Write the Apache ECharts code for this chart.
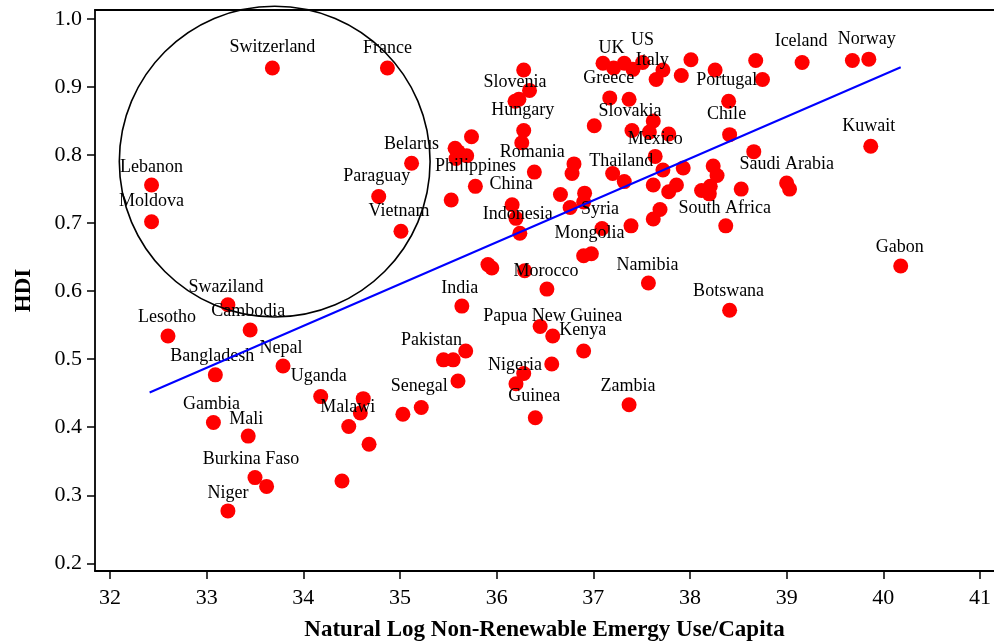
<!DOCTYPE html>
<html><head><meta charset="utf-8">
<script src="https://cdn.jsdelivr.net/npm/echarts@6/dist/echarts.min.js"></script>
<style>html,body{margin:0;padding:0;background:#fff}#c{width:994px;height:644px}</style>
</head><body><div id="c"></div>
<script>
// ---- data ----
const countries = [
 'Switzerland','France','Lebanon','Moldova','Belarus','Paraguay','Vietnam',
 'Swaziland','Cambodia','Lesotho','Bangladesh','Nepal','Uganda','Gambia','Mali','Burkina Faso','','Niger',
 '','','Malawi','','','','Senegal','Pakistan','','','','India','','Nigeria','','Guinea','','Papua New Guinea',
 'Kenya','Zambia','Morocco','','','','','Mongolia','Namibia','Botswana','Gabon',
 'Indonesia','China','','','Philippines','Romania','','','','','',
 '','','','Slovenia','Hungary','','','','','','','','','Syria','','Greece','',
 '','UK','','','US','','Italy','','','','','','Portugal','Chile',
 '','Slovakia','','','Mexico','','Thailand','','','','','','','',
 '','','','','','','','South Africa','Saudi Arabia','','Iceland','','Norway','Kuwait'
];
const energyUse = [
 33.68,34.87,32.43,32.43,35.12,34.78,35.01,
 33.22,33.45,32.60,33.09,33.79,34.18,33.07,33.43,33.50,33.62,33.22,
 34.62,34.59,34.47,34.68,34.40,35.03,35.22,35.45,35.55,35.68,35.60,35.64,36.28,36.20,36.57,36.40,36.45,36.58,
 36.90,37.37,36.52,36.29,35.91,35.95,36.90,36.98,37.57,38.41,40.18,
 36.24,36.16,36.20,35.53,35.78,36.39,35.74,35.57,35.60,35.69,35.58,
 36.28,36.34,36.23,36.19,36.28,36.26,36.80,36.78,36.66,36.91,36.90,36.76,37.39,37.09,37.01,37.17,37.37,
 37.10,37.21,37.32,37.41,37.51,37.72,37.65,38.01,37.91,38.26,38.68,38.75,38.40,38.41,
 37.62,37.40,37.58,37.78,37.64,37.20,37.32,37.62,37.72,37.93,37.78,37.86,37.69,37.62,
 38.24,38.28,38.21,38.12,38.20,38.66,38.53,38.37,39.00,39.03,39.16,39.68,39.85,39.87
];
const hdiValues = [
 0.928,0.928,0.756,0.702,0.788,0.739,0.688,
 0.580,0.543,0.534,0.477,0.490,0.445,0.407,0.387,0.326,0.313,0.277,
 0.442,0.421,0.401,0.375,0.321,0.419,0.429,0.499,0.499,0.512,0.468,0.578,0.479,0.464,0.493,0.414,0.548,0.534,
 0.512,0.433,0.603,0.630,0.639,0.634,0.652,0.655,0.612,0.572,0.637,
 0.685,0.727,0.707,0.734,0.754,0.775,0.827,0.810,0.805,0.799,0.795,
 0.925,0.895,0.882,0.879,0.836,0.818,0.787,0.773,0.742,0.744,0.731,0.723,0.696,0.692,0.843,0.884,0.882,
 0.935,0.928,0.935,0.926,0.936,0.925,0.911,0.940,0.917,0.925,0.939,0.911,0.879,0.830,
 0.850,0.836,0.834,0.831,0.798,0.773,0.761,0.756,0.778,0.781,0.746,0.756,0.720,0.706,
 0.784,0.770,0.754,0.748,0.743,0.805,0.750,0.696,0.759,0.750,0.936,0.939,0.941,0.813
];
const trendX = [32.41, 40.18];
const trendY = [0.451, 0.929];
const xTicks = [32,33,34,35,36,37,38,39,40,41];
const yTicks = [0.2,0.3,0.4,0.5,0.6,0.7,0.8,0.9,1.0];
// highlighted cluster (ellipse) in data units: centre and half-widths
const ringCentre = [33.704, 0.7904];
const ringRadius = [1.6075, 0.2284];

// ---- styles (label offsets in px) ----
const labelOffsets = {
 'Switzerland':[0,-21],'France':[0,-20],'Lebanon':[0,-18],'Moldova':[0,-20],'Belarus':[0,-19],
 'Paraguay':[-2,-20],'Vietnam':[-2,-20],'Swaziland':[-2,-17],'Cambodia':[-2,-19],'Lesotho':[-1,-19],
 'Bangladesh':[-3,-19],'Nepal':[-2,-18],'Uganda':[-2,-20],'Gambia':[-2,-18],'Mali':[-2,-17],
 'Burkina Faso':[-4,-18],'Niger':[0,-18],'Malawi':[-1,-19],'Pakistan':[-12,-20],'Senegal':[-2,-21],
 'India':[-2,-18],'Nigeria':[-1,-18],'Guinea':[-1,-21],'Papua New Guinea':[0,-20],'Kenya':[-1,-21],
 'Zambia':[-1,-19],'Morocco':[-1,-18],'Mongolia':[-2,-20],'Namibia':[-1,-18],'Botswana':[-1,-19],
 'Gabon':[-1,-19],'South Africa':[-1,-18],'Saudi Arabia':[0,-19],'Kuwait':[-2,-20],'Chile':[-3,-20],
 'Portugal':[-2,-21],'Iceland':[-1,-21],'Norway':[-2,-20],'Mexico':[0,-17],'Thailand':[-3,-20],
 'Slovakia':[-2,-19],'Greece':[-1,-20],'UK':[-2,-20],'US':[0,-22],'Italy':[-4,-19],'Slovenia':[0,-19],
 'Hungary':[-1,-20],'Romania':[-2,-20],'Philippines':[0,-20],'China':[-1,-20],'Indonesia':[-2,-19],'Syria':[-2,-19]
};
const serif = "'Liberation Serif','DejaVu Serif',serif";

const points = energyUse.map((x,i)=>{
  const nm = countries[i];
  const o = {value:[x,hdiValues[i]], name:nm};
  if (nm) {
    o.label = {show:true, position:'inside', formatter:nm, offset: labelOffsets[nm]||[0,-19]};
  }
  return o;
});

const chart = echarts.init(document.getElementById('c'), null, {renderer:'canvas'});
const axisCommon = {
  axisLine:{show:true, onZero:false, lineStyle:{color:'#000', width:1.8}},
  splitLine:{show:false}
};
chart.setOption({
  animation:false,
  backgroundColor:'#fff',
  grid:{left:95, right:0, top:10, bottom:73, containLabel:false, outerBoundsMode:'none'},
  xAxis:[{
    type:'value', min:31.845, max:41.145, position:'bottom',
    ...axisCommon,
    axisTick:{show:true, inside:false, length:8, customValues:xTicks, lineStyle:{color:'#000', width:1.5}},
    axisLabel:{show:true, customValues:xTicks, formatter:v=>String(Math.round(v)), margin:16,
      color:'#000', fontFamily:serif, fontSize:22},
    name:'Natural Log Non-Renewable Emergy Use/Capita', nameLocation:'middle', nameGap:48,
    nameTextStyle:{color:'#000', fontFamily:serif, fontSize:23, fontWeight:'bold'}
  },{
    type:'value', min:31.845, max:41.145, position:'top',
    ...axisCommon,
    axisTick:{show:false}, axisLabel:{show:false}
  }],
  yAxis:{
    type:'value', min:0.1887, max:1.0132,
    ...axisCommon,
    axisTick:{show:true, inside:false, length:8, customValues:yTicks, lineStyle:{color:'#000', width:1.5}},
    axisLabel:{show:true, customValues:yTicks, formatter:v=>v.toFixed(1), margin:13,
      color:'#000', fontFamily:serif, fontSize:22},
    name:'HDI', nameLocation:'middle', nameGap:59, nameRotate:90,
    nameTextStyle:{color:'#000', fontFamily:serif, fontSize:23, fontWeight:'bold'}
  },
  series:[{
    type:'line', data:trendX.map((x,i)=>[x,trendY[i]]), symbol:'none',
    lineStyle:{color:'#0000ff', width:2}, z:3, silent:true
  },{
    type:'scatter', data:points, symbol:'circle', symbolSize:15,
    itemStyle:{color:'#ff0000', opacity:1},
    label:{show:false, color:'#000', fontFamily:serif, fontSize:18},
    z:2
  }]
});

function drawRing(){
  const c = chart.convertToPixel({xAxisIndex:0, yAxisIndex:0}, ringCentre);
  const e = chart.convertToPixel({xAxisIndex:0, yAxisIndex:0}, [ringCentre[0]+ringRadius[0], ringCentre[1]+ringRadius[1]]);
  chart.setOption({graphic:[{type:'ellipse', shape:{cx:c[0], cy:c[1], rx:Math.abs(e[0]-c[0]), ry:Math.abs(e[1]-c[1])},
    style:{fill:null, stroke:'#000', lineWidth:1.6}, z:10, silent:true}]});
}
drawRing();
</script></body></html>
